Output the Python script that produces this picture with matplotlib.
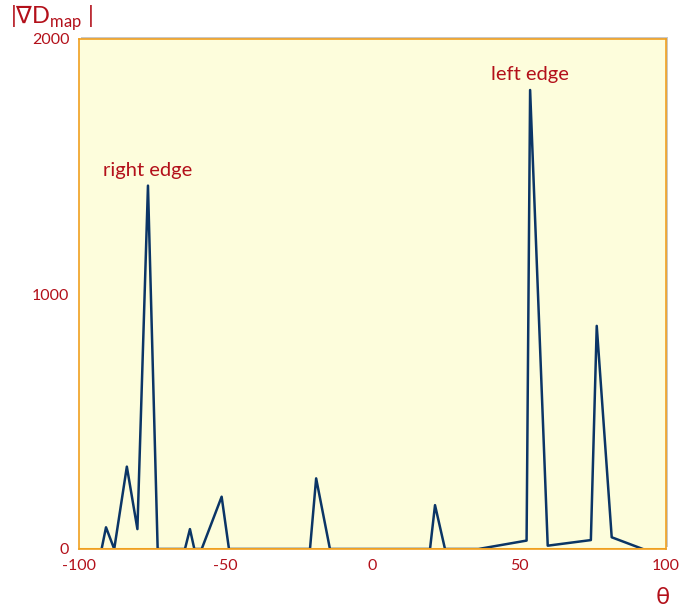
import numpy as np
import matplotlib
matplotlib.use("Agg")
from matplotlib import pyplot as plt
from matplotlib.patches import Rectangle

# data
theta = [-92.3, -90.8, -88.0, -83.7, -80.1, -76.5, -73.2,
         -63.9, -62.2, -60.7, -58.2, -51.4, -48.9,
         -21.3, -19.2, -14.5, 19.6, 21.3, 24.7, 36.1,
         52.5, 53.7, 59.7, 74.4, 76.4, 81.5, 92.1]
grad = [0, 85, 0, 323, 78, 1425, 0,
        0, 78, 0, 0, 205, 0,
        0, 277, 0, 0, 172, 0, 0,
        33, 1800, 13, 35, 875, 46, 0]
xticks = [-100, -50, 0, 50, 100]
yticks = [0, 1000, 2000]
labels = {"right edge": (-76.5, 1425), "left edge": (53.7, 1800)}

red = "#b3101a"
navy = "#0b3566"
orange = "#f0a020"

plt.rcParams['font.family'] = ['Lato', 'DejaVu Sans']

fig = plt.figure(figsize=(6.8, 6.1), dpi=100)
ax = fig.add_axes([79/680, 1 - 549/610, 587/680, 510/610])
ax.set_zorder(2)

# grey drop shadow behind the frame
fig.patches.append(Rectangle((81/680, 1 - 547/610), 587/680, 510/610,
                             transform=fig.transFigure, facecolor="#c8c8c8",
                             edgecolor="none", zorder=-1))

ax.set_facecolor("#fdfddc")
ax.plot(theta, grad, color=navy, lw=1.8, zorder=2)
ax.axhline(0, color=orange, lw=2.2, zorder=3)

for t, (x, y) in labels.items():
    ax.annotate(t, (x, y), xytext=(0, 5), textcoords="offset points",
                ha="center", va="bottom", color=red, fontsize=14.5)

ax.set_xlim(-100, 100)
ax.set_ylim(0, 2000)
ax.set_xticks(xticks)
ax.set_yticks(yticks)
ax.set_xticklabels([str(v) for v in xticks])
ax.set_yticklabels([str(v) for v in yticks])
ax.tick_params(length=0, colors=red, labelsize=11.5, pad=7)
for s in ax.spines.values():
    s.set_color(orange)
    s.set_linewidth(1.2)

fig.text(10/680, 1 - 18/610, r"|$\nabla$D$_{\mathregular{map}}$ |", color=red,
         fontsize=17, va="center", ha="left")
fig.text(663/680, 1 - 597/610, "θ", color=red, fontsize=17,
         va="center", ha="center")

fig.savefig("out.png", dpi=100, facecolor="white")
